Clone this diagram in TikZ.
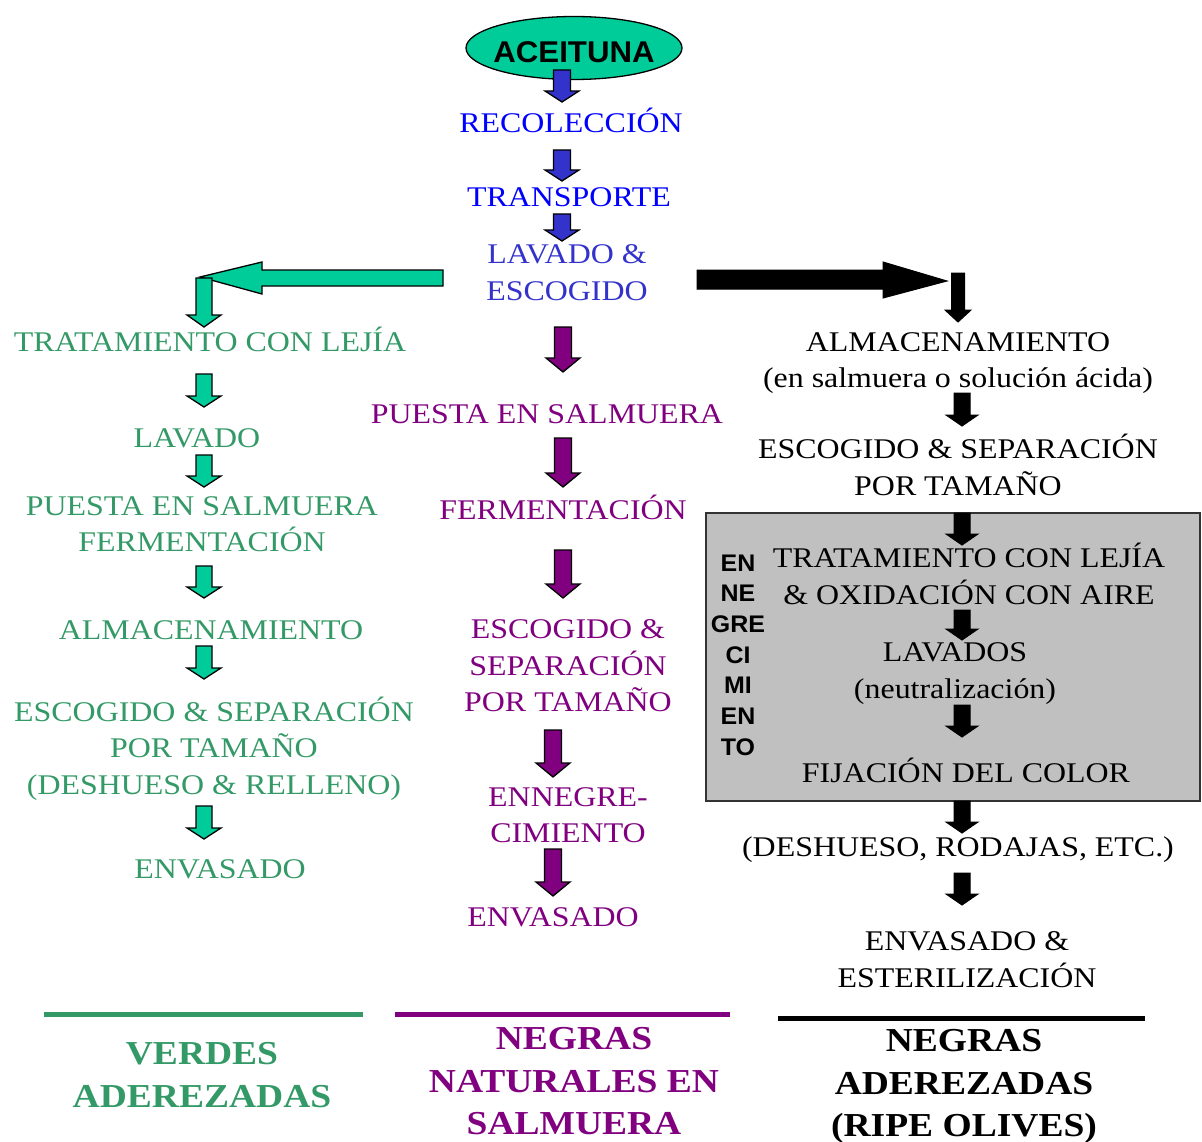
\documentclass[tikz,border=0pt]{standalone}
\usepackage{fontspec}
\setmainfont{Liberation Serif}[FakeStretch=1.12]
\newfontfamily\arialfont{Liberation Sans}[FakeStretch=1.04]
\usetikzlibrary{shapes.geometric}

\definecolor{cAzul}{RGB}{0,0,255}
\definecolor{cAzulB}{RGB}{51,51,204}
\definecolor{cVerde}{RGB}{51,153,102}
\definecolor{cVerdeF}{RGB}{0,204,153}
\definecolor{cMorado}{RGB}{128,0,128}
\definecolor{cGris}{RGB}{192,192,192}

% flecha gruesa hacia abajo: estilo, x, arriba, punta, medio tallo, media cabeza, largo cabeza
\newcommand{\flecha}[7]{%
  \filldraw[#1] ({#2-#5},#3) -- ({#2+#5},#3) -- ({#2+#5},{#4-#7}) -- ({#2+#6},{#4-#7})
    -- (#2,#4) -- ({#2-#6},{#4-#7}) -- ({#2-#5},{#4-#7}) -- cycle;}

\begin{document}
\begin{tikzpicture}[x=1pt, y=-1pt,
    paso/.style={inner sep=0pt, align=center, font=\fontsize{28.5}{36.5}\selectfont,
                 execute at begin node=\strut, execute at end node=\strut},
    pasoazul/.style={paso, text=cAzul},
    pasoverde/.style={paso, text=cVerde},
    pasomorado/.style={paso, text=cMorado},
    pasonegro/.style={paso, text=black},
    titulo/.style={inner sep=0pt, align=center, font=\bfseries\fontsize{33.5}{42.5}\selectfont,
                   execute at begin node=\strut, execute at end node=\strut},
    fazul/.style={fill=cAzulB, draw=black, line width=1.3pt},
    fverde/.style={fill=cVerdeF, draw=black, line width=1.3pt},
    fmorado/.style={fill=cMorado, draw=black, line width=1.3pt},
    fnegro/.style={fill=black, draw=black, line width=1pt},
    raya/.style={line width=5pt}]

  \useasboundingbox (0,0) rectangle (1202,1142);

  % recuadro del ennegrecimiento
  \draw[fill=cGris, line width=1.5pt, draw=black!80] (706,513) rectangle (1200,801);

  \node[ellipse, draw, fill=cVerdeF, line width=1.3pt, minimum width=216pt, minimum height=63pt,
        inner xsep=-25pt, inner ysep=0pt, text height=29pt, text depth=0pt,
        font=\arialfont\bfseries\fontsize{30}{36}\selectfont] (aceituna) at (574,48) {ACEITUNA};

  % tronco comun
  \node[pasoazul] (recol) at (571,125) {RECOLECCIÓN};
  \node[pasoazul] (transp) at (569,199) {TRANSPORTE};
  \node[paso, text=cAzulB] (lavesc) at (567,278) {LAVADO \&\\ESCOGIDO};

  % verdes
  \node[pasoverde] (g1) at (210,344) {TRATAMIENTO CON LEJÍA};
  \node[pasoverde] (g2) at (197,440) {LAVADO};
  \node[pasoverde] (g3) at (202,529.5) {PUESTA EN SALMUERA\\FERMENTACIÓN};
  \node[pasoverde] (g4) at (211,632) {ALMACENAMIENTO};
  \node[pasoverde] (g5) at (214,751) {ESCOGIDO \& SEPARACIÓN\\POR TAMAÑO\\(DESHUESO \& RELLENO)};
  \node[pasoverde] (g6) at (220,871) {ENVASADO};

  % negras naturales
  \node[pasomorado] (p1) at (547,416) {PUESTA EN SALMUERA};
  \node[pasomorado] (p2) at (563,512) {FERMENTACIÓN};
  \node[pasomorado] (p3) at (568,671) {ESCOGIDO \&\\SEPARACIÓN\\POR TAMAÑO};
  \node[pasomorado] (p4) at (568,820.5) {ENNEGRE-\\CIMIENTO};
  \node[pasomorado] (p5) at (553,919) {ENVASADO};

  % negras aderezadas
  \node[pasonegro] (n1) at (958,365.5) {ALMACENAMIENTO\\(en salmuera o solución ácida)};
  \node[pasonegro] (n2) at (958,470) {ESCOGIDO \& SEPARACIÓN\\POR TAMAÑO};
  \node[pasonegro] (n3) at (969,579) {TRATAMIENTO CON LEJÍA\\\& OXIDACIÓN CON AIRE};
  \node[pasonegro] (n4) at (955,676) {LAVADOS\\(neutralización)};
  \node[pasonegro] (n5) at (966,775) {FIJACIÓN DEL COLOR};
  \node[pasonegro] (n6) at (958,849) {(DESHUESO, RODAJAS, ETC.)};
  \node[pasonegro] (n7) at (967,965) {ENVASADO \&\\ESTERILIZACIÓN};
  \node[inner sep=0pt, align=center, font=\arialfont\bfseries\fontsize{24}{30.7}\selectfont,
        execute at begin node=\strut, execute at end node=\strut] (ennegr) at (738,659.5)
        {EN\\NE\\GRE\\CI\\MI\\EN\\TO};

  % flechas
  \flecha{fazul}{562}{70}{102}{8.5}{17}{11}
  \flecha{fazul}{562}{150}{181}{8.5}{17}{11}
  \flecha{fazul}{562}{214}{241}{8.5}{17}{11}

  \filldraw[fverde] (443,270) -- (262,270) -- (262,262) -- (200,277) -- (262,294)
    -- (262,286) -- (443,286) -- cycle;
  \flecha{fverde}{204}{278}{327}{8}{17}{12}
  \flecha{fverde}{204}{374}{407}{8}{17}{11}
  \flecha{fverde}{204}{455}{487}{8}{17}{11}
  \flecha{fverde}{204}{566}{598}{8}{17}{11}
  \flecha{fverde}{204}{646}{679}{8}{17}{11}
  \flecha{fverde}{204}{806}{839}{8}{17}{11}

  \flecha{fmorado}{563}{327}{372}{8.5}{17}{14}
  \flecha{fmorado}{563}{438}{487}{8.5}{17}{14}
  \flecha{fmorado}{563}{550}{598}{8.5}{17}{14}
  \flecha{fmorado}{553}{730}{777}{8.5}{17}{14}
  \flecha{fmorado}{553}{849}{896}{8.5}{17}{14}

  \filldraw[fnegro] (697,270) -- (883,270) -- (883,262) -- (947,281) -- (883,298)
    -- (883,289) -- (697,289) -- cycle;
  \flecha{fnegro}{958}{273}{322}{6.5}{13}{12}
  \flecha{fnegro}{962}{393}{426}{8}{16}{11}
  \flecha{fnegro}{962}{513}{545}{8}{16}{11}
  \flecha{fnegro}{962}{610}{640}{8}{16}{11}
  \flecha{fnegro}{962}{705}{737}{8}{16}{11}
  \flecha{fnegro}{962}{801}{833}{8}{16}{11}
  \flecha{fnegro}{962}{873}{905}{8}{16}{11}

  % titulos
  \draw[raya, cVerde] (44,1014) -- (363,1014);
  \draw[raya, cMorado] (395,1014) -- (730,1014);
  \draw[raya, black] (778,1018) -- (1145,1018);
  \node[titulo, text=cVerde] (tverdes) at (202,1081.5) {VERDES\\ADEREZADAS};
  \node[titulo, text=cMorado] (tnaturales) at (574,1087.5) {NEGRAS\\NATURALES EN\\SALMUERA};
  \node[titulo, text=black] (tripe) at (964,1089.5) {NEGRAS\\ADEREZADAS\\(RIPE OLIVES)};
\end{tikzpicture}
\end{document}
